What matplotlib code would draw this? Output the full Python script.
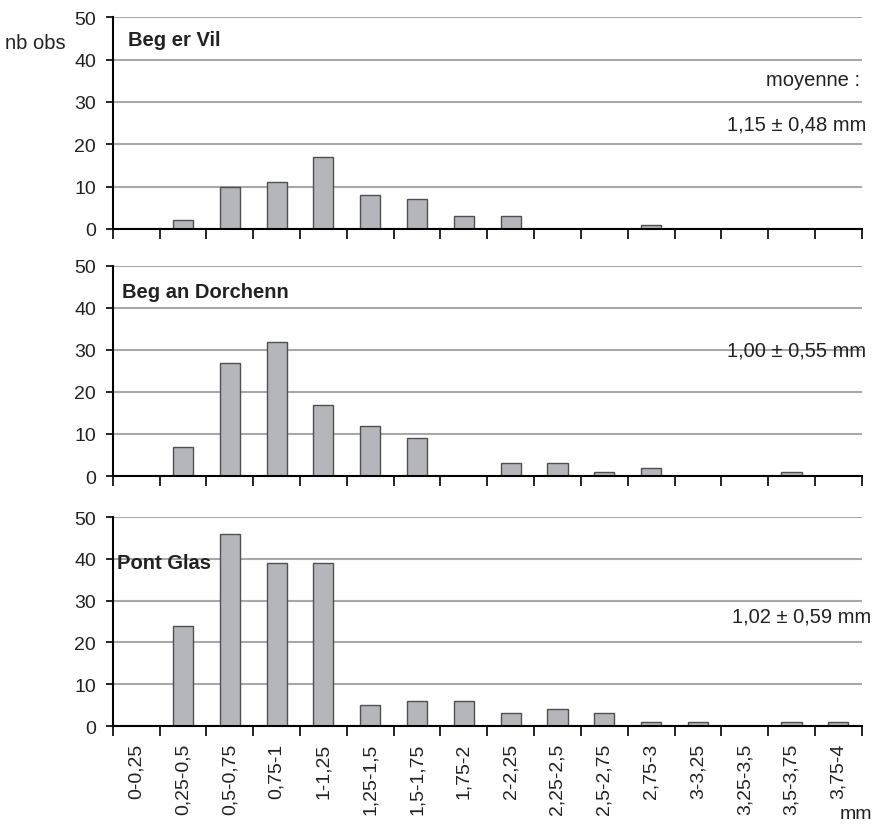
import matplotlib.pyplot as plt
import numpy as np

plt.rcParams['font.family'] = ['Liberation Sans', 'DejaVu Sans']

classes = ['0-0,25', '0,25-0,5', '0,5-0,75', '0,75-1', '1-1,25', '1,25-1,5',
           '1,5-1,75', '1,75-2', '2-2,25', '2,25-2,5', '2,5-2,75', '2,75-3',
           '3-3,25', '3,25-3,5', '3,5-3,75', '3,75-4']

beg_er_vil = [0, 2, 10, 11, 17, 8, 7, 3, 3, 0, 0, 1, 0, 0, 0, 0]
beg_an_dorchenn = [0, 7, 27, 32, 17, 12, 9, 0, 3, 3, 1, 2, 0, 0, 1, 0]
pont_glas = [0, 24, 46, 39, 39, 5, 6, 6, 3, 4, 3, 1, 1, 0, 1, 1]

sites = ['Beg er Vil', 'Beg an Dorchenn', 'Pont Glas']
moyennes = ['1,15 ± 0,48 mm', '1,00 ± 0,55 mm', '1,02 ± 0,59 mm']
series = [beg_er_vil, beg_an_dorchenn, pont_glas]

fig = plt.figure(figsize=(8.74, 8.29), dpi=100)
boxes = [(0.129, 0.7226, 0.857, 0.2554),
         (0.129, 0.4246, 0.857, 0.2534),
         (0.129, 0.123, 0.857, 0.252)]
title_x = [0.02, 0.012, 0.006]
title_y = [44.8, 43.8, 39.2]
mean_y = [24.8, 30.0, 26.3]

x = np.arange(len(classes))
for i, (box, vals) in enumerate(zip(boxes, series)):
    ax = fig.add_axes(box)
    ax.bar(x, vals, width=0.43, color='#b4b6bb', edgecolor='#505050',
           linewidth=1.0, zorder=3)
    ax.set_xlim(-0.5, len(classes) - 0.5)
    ax.set_ylim(0, 50)
    ax.set_yticks(range(0, 51, 10))
    ax.yaxis.grid(True, color='#a8a8a8', linewidth=1.5, zorder=0)
    ax.tick_params(axis='y', labelsize=14, length=5, width=1.2, direction='out',
                   pad=7, labelcolor='#222222')
    for s in ['top', 'right']:
        ax.spines[s].set_visible(False)
    ax.spines['left'].set_linewidth(1.5)
    ax.spines['bottom'].set_linewidth(1.5)
    ax.spines['bottom'].set_zorder(4)
    # ticks at class boundaries, labels at centers
    ax.set_xticks(np.arange(-0.5, len(classes)), minor=True)
    ax.tick_params(axis='x', which='minor', length=7, width=1.2, direction='out')
    ax.set_xticks(x)
    if i == 2:
        ax.set_xticklabels(classes, rotation=90, fontsize=14, color='#222222')
        ax.tick_params(axis='x', which='major', length=0, pad=12)
    else:
        ax.set_xticklabels([])
        ax.tick_params(axis='x', which='major', length=0)
    ax.text(title_x[i], title_y[i], sites[i],
            transform=ax.get_yaxis_transform(), fontsize=14.5, fontweight='bold',
            color='#222222', va='center', ha='left')
    if i == 0:
        ax.text(0.998, 35.4, 'moyenne :', transform=ax.get_yaxis_transform(),
                fontsize=14.5, ha='right', va='center', color='#222222')
    ax.text(1.006 if i < 2 else 1.013, mean_y[i], moyennes[i],
            transform=ax.get_yaxis_transform(), fontsize=14.5, ha='right',
            va='center', color='#222222')

fig.text(0.006, 0.948, 'nb obs', fontsize=14.5, ha='left', va='center',
         color='#222222')
fig.text(0.998, 0.017, 'mm', fontsize=14, ha='right', va='center',
         color='#222222')

fig.savefig('out.png', dpi=100)
